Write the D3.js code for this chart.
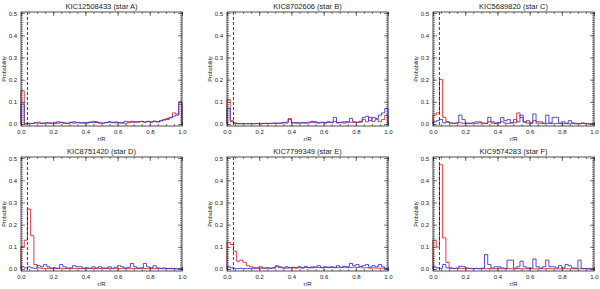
<!DOCTYPE html>
<html>
<head>
<meta charset="utf-8">
<script src="https://cdn.jsdelivr.net/npm/d3@7"></script>
<style>
  body { margin: 0; background: #fff; }
  text { font-family: "Liberation Sans", "DejaVu Sans", sans-serif; fill: #222; }
</style>
</head>
<body>
<div id="vis-container"></div>
<script>
// Títulos dos painéis
const titles = ["KIC12508433 (star A)", "KIC8702606 (star B)", "KIC5689820 (star C)",
                "KIC8751420 (star D)", "KIC7799349 (star E)", "KIC9574283 (star F)"];

// Largura de cada bin em r/R
const binWidth = 0.02;
// Linha tracejada vertical
const dashedR = 0.04;

const xTicks = [0, 0.2, 0.4, 0.6, 0.8, 1.0];
const yTicks = [0, 0.1, 0.2, 0.3, 0.4, 0.5];

// Histogramas (vermelho / azul), 50 bins cada
const redA = [0.150,0.000,0.003,0.002,0.005,0.008,0.004,0.003,0.006,0.004,
              0.003,0.010,0.006,0.004,0.003,0.008,0.010,0.006,0.005,0.004,
              0.006,0.008,0.012,0.007,0.005,0.004,0.006,0.010,0.008,0.005,
              0.006,0.004,0.003,0.006,0.008,0.010,0.009,0.011,0.008,0.012,
              0.010,0.013,0.009,0.015,0.020,0.025,0.030,0.050,0.045,0.090];
const blueA = [0.090,0.002,0.001,0.003,0.006,0.004,0.002,0.005,0.004,0.003,
               0.006,0.004,0.008,0.005,0.003,0.006,0.004,0.007,0.005,0.006,
               0.004,0.008,0.006,0.010,0.005,0.004,0.007,0.008,0.006,0.009,
               0.005,0.006,0.012,0.010,0.012,0.008,0.010,0.012,0.009,0.011,
               0.008,0.012,0.010,0.014,0.018,0.020,0.028,0.035,0.040,0.100];

const redB = [0.110,0.015,0.005,0.002,0.001,0.002,0.001,0.002,0.001,0.002,
              0.001,0.002,0.003,0.002,0.003,0.004,0.003,0.005,0.008,0.025,
              0.006,0.004,0.005,0.006,0.004,0.005,0.008,0.010,0.005,0.006,
              0.004,0.008,0.006,0.012,0.005,0.006,0.004,0.010,0.008,0.006,
              0.007,0.008,0.020,0.010,0.030,0.012,0.020,0.010,0.020,0.040];
const blueB = [0.070,0.010,0.003,0.001,0.002,0.001,0.002,0.001,0.002,0.002,
               0.001,0.003,0.002,0.003,0.004,0.003,0.004,0.006,0.005,0.020,
               0.005,0.006,0.004,0.005,0.006,0.008,0.012,0.006,0.005,0.008,
               0.006,0.010,0.008,0.030,0.006,0.008,0.010,0.008,0.025,0.010,
               0.008,0.012,0.030,0.035,0.015,0.030,0.025,0.040,0.050,0.070];

const redC = [0.040,0.050,0.200,0.030,0.010,0.005,0.003,0.004,0.006,0.003,
              0.002,0.003,0.004,0.003,0.005,0.004,0.003,0.010,0.004,0.003,
              0.005,0.010,0.004,0.003,0.005,0.006,0.050,0.030,0.010,0.004,
              0.003,0.015,0.004,0.003,0.002,0.003,0.002,0.003,0.002,0.002,
              0.001,0.002,0.001,0.002,0.001,0.001,0.002,0.001,0.001,0.001];
const blueC = [0.010,0.015,0.020,0.005,0.010,0.004,0.003,0.005,0.040,0.020,
               0.004,0.003,0.005,0.010,0.010,0.004,0.003,0.030,0.010,0.004,
               0.005,0.030,0.015,0.020,0.005,0.020,0.010,0.040,0.008,0.015,
               0.005,0.045,0.010,0.010,0.004,0.040,0.005,0.030,0.030,0.004,
               0.010,0.003,0.015,0.005,0.003,0.002,0.005,0.002,0.001,0.001];

const redD = [0.100,0.130,0.270,0.150,0.020,0.005,0.003,0.002,0.003,0.002,
              0.003,0.002,0.003,0.002,0.003,0.002,0.002,0.003,0.002,0.002,
              0.003,0.002,0.002,0.003,0.002,0.002,0.003,0.002,0.002,0.003,
              0.002,0.003,0.002,0.002,0.003,0.002,0.002,0.003,0.002,0.002,
              0.003,0.002,0.002,0.002,0.001,0.002,0.001,0.001,0.001,0.001];
const blueD = [0.010,0.005,0.010,0.005,0.003,0.015,0.010,0.020,0.010,0.004,
               0.005,0.003,0.020,0.010,0.004,0.005,0.015,0.010,0.010,0.004,
               0.005,0.003,0.010,0.004,0.010,0.005,0.004,0.010,0.003,0.008,
               0.015,0.010,0.004,0.008,0.025,0.010,0.004,0.005,0.025,0.010,
               0.004,0.015,0.005,0.003,0.005,0.002,0.003,0.002,0.001,0.001];

const redE = [0.120,0.110,0.080,0.035,0.040,0.030,0.015,0.010,0.005,0.004,
              0.003,0.004,0.005,0.004,0.006,0.015,0.010,0.005,0.004,0.006,
              0.005,0.004,0.006,0.005,0.007,0.006,0.005,0.008,0.006,0.007,
              0.008,0.006,0.007,0.008,0.006,0.007,0.008,0.007,0.006,0.008,
              0.007,0.010,0.005,0.006,0.004,0.005,0.004,0.003,0.003,0.002];
const blueE = [0.010,0.005,0.003,0.002,0.003,0.002,0.003,0.002,0.003,0.005,
               0.010,0.004,0.005,0.003,0.004,0.010,0.006,0.005,0.010,0.005,
               0.008,0.006,0.010,0.005,0.012,0.006,0.010,0.008,0.015,0.006,
               0.010,0.008,0.010,0.006,0.015,0.008,0.012,0.010,0.025,0.015,
               0.020,0.010,0.015,0.020,0.008,0.015,0.010,0.020,0.010,0.000];

const redF = [0.130,0.100,0.470,0.140,0.030,0.005,0.003,0.002,0.003,0.002,
              0.002,0.002,0.001,0.002,0.001,0.002,0.001,0.002,0.001,0.001,
              0.002,0.001,0.001,0.002,0.001,0.001,0.002,0.001,0.001,0.001,
              0.002,0.001,0.001,0.001,0.001,0.002,0.001,0.001,0.001,0.001,
              0.001,0.001,0.001,0.001,0.001,0.001,0.001,0.001,0.001,0.001];
const blueF = [0.010,0.005,0.003,0.020,0.005,0.003,0.002,0.004,0.012,0.012,
               0.005,0.003,0.002,0.003,0.002,0.004,0.065,0.020,0.004,0.010,
               0.010,0.005,0.003,0.040,0.040,0.004,0.010,0.035,0.010,0.005,
               0.003,0.045,0.010,0.004,0.010,0.040,0.010,0.010,0.005,0.015,
               0.005,0.020,0.015,0.005,0.003,0.040,0.003,0.002,0.001,0.001];

const redSeries = [redA, redB, redC, redD, redE, redF];
const blueSeries = [blueA, blueB, blueC, blueD, blueE, blueF];

// ––––––––––––––––––––––––––––––––––––––––––––––––––––––––––––

const W = 600, H = 289;
const panelW = 161, panelH = 114;
const colLeft = [21, 227, 433];
const rowTop = [12, 157];

const svg = d3.select("#vis-container").append("svg").attr("width", W).attr("height", H);

// Escalas (iguais em todos os painéis)
const x = d3.scaleLinear().domain([0, 1]).range([0, panelW]);
const y = d3.scaleLinear().domain([-0.009, 0.505]).range([panelH, 0]);

const stepLine = d3.line()
  .x((d) => x(d.r))
  .y((d) => y(d.p))
  .curve(d3.curveStepAfter);

function toSteps(values) {
  const pts = values.map((v, i) => ({ r: i * binWidth, p: v }));
  pts.push({ r: values.length * binWidth, p: values[values.length - 1] });
  return [{ r: 0, p: 0 }].concat(pts, [{ r: values.length * binWidth, p: 0 }]);
}

const fmt = d3.format(".1f");

titles.forEach((title, k) => {
  const col = k % 3, row = Math.floor(k / 3);
  const g = svg.append("g").attr("transform", `translate(${colLeft[col]},${rowTop[row]})`);

  // Histogramas
  g.append("path")
    .attr("d", stepLine(toSteps(redSeries[k])))
    .attr("fill", "none")
    .attr("stroke", "#e8393a")
    .attr("stroke-width", 1);
  g.append("path")
    .attr("d", stepLine(toSteps(blueSeries[k])))
    .attr("fill", "none")
    .attr("stroke", "#2f2fd8")
    .attr("stroke-opacity", 0.85)
    .attr("stroke-width", 1);

  // Linha tracejada
  g.append("line")
    .attr("x1", x(dashedR)).attr("x2", x(dashedR))
    .attr("y1", 0).attr("y2", panelH)
    .attr("stroke", "#111")
    .attr("stroke-width", 0.8)
    .attr("stroke-dasharray", "3,2");

  // Eixos (ticks para dentro, espelhados)
  const axG = g.append("g");
  const minorX = d3.range(0, 1.0001, 0.05);
  const minorY = d3.range(0, 0.5001, 0.01);

  axG.append("g").attr("transform", `translate(0,${panelH})`)
    .call(d3.axisBottom(x).tickValues(xTicks).tickFormat(fmt).tickSizeInner(-4).tickSizeOuter(0).tickPadding(4));
  axG.append("g").attr("transform", `translate(0,${panelH})`)
    .call(d3.axisBottom(x).tickValues(minorX).tickFormat("").tickSizeInner(-2).tickSizeOuter(0));
  axG.append("g")
    .call(d3.axisTop(x).tickValues(xTicks).tickFormat("").tickSizeInner(-4).tickSizeOuter(0));
  axG.append("g")
    .call(d3.axisTop(x).tickValues(minorX).tickFormat("").tickSizeInner(-2).tickSizeOuter(0));

  axG.append("g")
    .call(d3.axisLeft(y).tickValues(yTicks).tickFormat(fmt).tickSizeInner(-4).tickSizeOuter(0).tickPadding(4));
  axG.append("g")
    .call(d3.axisLeft(y).tickValues(minorY).tickFormat("").tickSizeInner(-2).tickSizeOuter(0));
  axG.append("g").attr("transform", `translate(${panelW},0)`)
    .call(d3.axisRight(y).tickValues(yTicks).tickFormat("").tickSizeInner(-4).tickSizeOuter(0));
  axG.append("g").attr("transform", `translate(${panelW},0)`)
    .call(d3.axisRight(y).tickValues(minorY).tickFormat("").tickSizeInner(-2).tickSizeOuter(0));

  axG.selectAll(".domain").remove();
  axG.selectAll("line").attr("stroke", "#222").attr("stroke-width", 0.6);
  axG.selectAll("text")
    .attr("fill", "#222")
    .attr("font-size", 6)
    .attr("font-family", "Liberation Sans, sans-serif");

  // Caixa
  g.append("rect")
    .attr("width", panelW).attr("height", panelH)
    .attr("fill", "none").attr("stroke", "#222").attr("stroke-width", 0.8);

  // Textos
  g.append("text")
    .attr("x", panelW / 2).attr("y", -3.5)
    .attr("text-anchor", "middle")
    .attr("font-size", 7.5)
    .text(title);
  g.append("text")
    .attr("x", panelW / 2).attr("y", panelH + 15)
    .attr("text-anchor", "middle")
    .attr("font-size", 6)
    .text("r/R");
  g.append("text")
    .attr("transform", `translate(-15,${panelH / 2}) rotate(-90)`)
    .attr("text-anchor", "middle")
    .attr("font-size", 5.5)
    .text("Probability");
});
</script>
</body>
</html>
